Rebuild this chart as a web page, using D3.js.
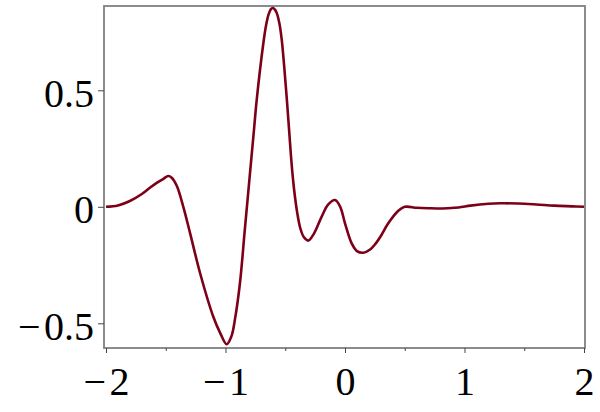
<!DOCTYPE html>
<html><head><meta charset="utf-8">
<script src="https://cdn.jsdelivr.net/npm/d3@7"></script>
<style>body{margin:0;background:#fff}svg{display:block}</style>
</head><body>
<script>
const xs = [-2.0,-1.9,-1.8,-1.7,-1.63,-1.576,-1.52,-1.479,-1.45,-1.408,-1.353,-1.297,-1.213,-1.102,-1.046,-0.99,-0.95,-0.92,-0.879,-0.84,-0.795,-0.76,-0.739,-0.683,-0.66,-0.64,-0.62,-0.605,-0.585,-0.57,-0.55,-0.53,-0.51,-0.488,-0.465,-0.446,-0.425,-0.4,-0.375,-0.345,-0.307,-0.26,-0.195,-0.14,-0.084,-0.04,0.0,0.056,0.1,0.153,0.21,0.25,0.3,0.362,0.446,0.5,0.6,0.7,0.82,0.95,1.05,1.2,1.3,1.45,1.6,1.75,1.9,2.0];
const ys = [0.0,0.006,0.025,0.055,0.083,0.103,0.12,0.132,0.125,0.09,0.0,-0.112,-0.284,-0.472,-0.54,-0.59,-0.555,-0.48,-0.327,-0.108,0.145,0.34,0.458,0.703,0.78,0.825,0.848,0.853,0.845,0.83,0.79,0.72,0.61,0.47,0.31,0.18,0.07,-0.025,-0.09,-0.13,-0.145,-0.115,-0.042,0.01,0.029,0.0,-0.071,-0.157,-0.19,-0.197,-0.183,-0.162,-0.125,-0.071,-0.017,0.0,-0.004,-0.006,-0.007,-0.003,0.005,0.013,0.015,0.014,0.01,0.005,0.002,0.0];
const xTicks = [-2,-1,0,1,2];
const xMinor = [-1.5,-0.5,0.5,1.5];
const yTicks = [-0.5,0,0.5];
const fmt = v => (v < 0 ? "\u2212\u200A" : "") + Math.abs(v);

const W = 600, H = 412;
const svg = d3.select("body").append("svg").attr("width", W).attr("height", H);
const x = d3.scaleLinear().domain([-2, 2]).range([106, 584]);
const y = d3.scaleLinear().domain([-0.5, 0.5]).range([323.3, 90.3]);
const pLeft = 104, pRight = 585, pTop = 6, pBottom = 348;

const frame = "#808080";
svg.append("rect").attr("x", pLeft).attr("y", pTop).attr("width", pRight - pLeft).attr("height", pBottom - pTop)
  .attr("fill", "none").attr("stroke", frame).attr("stroke-width", 1.8);

const data = xs.map((d, i) => [d, ys[i]]);
svg.append("path").datum(data)
  .attr("d", d3.line().x(d => x(d[0])).y(d => y(d[1])).curve(d3.curveCatmullRom.alpha(0.5)))
  .attr("fill", "none").attr("stroke", "#7d0019").attr("stroke-width", 2.6).attr("stroke-linejoin", "round");

const font = "'Liberation Serif', 'Times New Roman', serif";
const xa = svg.append("g").attr("transform", `translate(0,${pBottom})`)
  .call(d3.axisBottom(x).tickValues(xTicks).tickSize(5).tickSizeOuter(0).tickPadding(14).tickFormat(fmt));
xa.select(".domain").remove();
xa.selectAll("line").attr("stroke", "#444").attr("stroke-width", 1);
xa.selectAll("text").attr("font-family", font).attr("font-size", 40).attr("fill", "#000");
const xm = svg.append("g").attr("transform", `translate(0,${pBottom})`)
  .call(d3.axisBottom(x).tickValues(xMinor).tickSize(3).tickFormat(""));
xm.select(".domain").remove();
xm.selectAll("line").attr("stroke", "#444");

const ya = svg.append("g").attr("transform", `translate(${pLeft},0)`)
  .call(d3.axisLeft(y).tickValues(yTicks).tickSize(6).tickSizeOuter(0).tickPadding(4).tickFormat(fmt));
ya.select(".domain").remove();
ya.selectAll("line").attr("stroke", "#444").attr("stroke-width", 1);
ya.selectAll("text").attr("font-family", font).attr("font-size", 40).attr("fill", "#000")
  .attr("dy", "0.4em");
</script>
</body></html>
